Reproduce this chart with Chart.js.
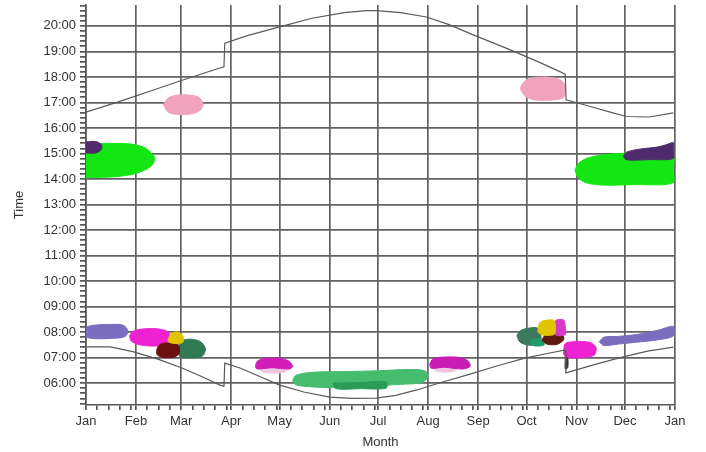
<!DOCTYPE html>
<html>
<head>
<meta charset="utf-8">
<script src="https://cdn.jsdelivr.net/npm/chart.js@4.4.1/dist/chart.umd.min.js"></script>
<style>
  html, body { margin: 0; padding: 0; background: #fff; }
</style>
</head>
<body>
<canvas id="sunChart" width="706" height="452"></canvas>
<script>
// x axis: day of year where each month starts, and its label
var monthDays = [0, 31, 59, 90, 120, 151, 181, 212, 243, 273, 304, 334, 365];
var monthNames = ['Jan', 'Feb', 'Mar', 'Apr', 'May', 'Jun', 'Jul', 'Aug', 'Sep', 'Oct', 'Nov', 'Dec', 'Jan'];

// y axis: hour ticks and labels
var hourTicks = [6, 7, 8, 9, 10, 11, 12, 13, 14, 15, 16, 17, 18, 19, 20];
var hourLabels = ['06:00', '07:00', '08:00', '09:00', '10:00', '11:00', '12:00', '13:00',
                  '14:00', '15:00', '16:00', '17:00', '18:00', '19:00', '20:00'];

// sunset and sunrise curves (day of year, hour)
var sunsetDays  = [0, 20, 40, 60, 83, 85.5, 86, 100, 120, 140, 160, 174, 180, 195, 211, 225, 240, 263, 280, 294, 297, 297.5, 312, 326.5, 335, 349, 364];
var sunsetHours = [16.62, 17.02, 17.45, 17.88, 18.35, 18.4, 19.32, 19.62, 19.96, 20.3, 20.52, 20.6, 20.6, 20.52, 20.35, 20.05, 19.65, 19.06, 18.6, 18.2, 18.1, 17.1, 16.85, 16.59, 16.45, 16.43, 16.59];
var sunriseDays  = [0, 15, 29, 45, 59.5, 72, 83, 85.5, 86, 95.4, 108, 120, 135, 151, 165, 180, 192, 205, 220, 238, 255, 272, 285, 297, 297.4, 315, 331, 348, 364];
var sunriseHours = [7.42, 7.42, 7.23, 6.93, 6.59, 6.25, 5.92, 5.88, 6.78, 6.59, 6.25, 5.92, 5.65, 5.45, 5.4, 5.41, 5.52, 5.73, 6.02, 6.35, 6.68, 6.98, 7.15, 7.3, 6.4, 6.72, 7.0, 7.25, 7.41];

// observation clusters, outlines as [day, hour]
var janGreen = [[0,15.35],[8.7,15.39],[21,15.39],[30,15.35],[37,15.2],[41.5,14.95],[42.7,14.8],[41,14.55],[37,14.37],[30,14.2],[20,14.1],[8,14.06],[0,14.06]];
var janPurple = [[0,15.45],[6,15.47],[9.5,15.35],[9.5,15.15],[6,15.02],[0,15.02]];
var marPink = [[48,16.9],[51,17.18],[57,17.29],[64,17.29],[70,17.2],[72.5,16.95],[71,16.7],[65,16.55],[57,16.53],[51,16.62],[48,16.9]];
var octPink = [[269,17.55],[272,17.85],[278,17.98],[288,17.98],[295,17.85],[297,17.55],[296,17.2],[290,17.1],[278,17.1],[272,17.25],[269,17.55]];
var decGreen = [[303,14.35],[305,14.6],[310,14.8],[318,14.92],[331,15.0],[350,15.0],[364,15.0],[364,14.4],[364,13.85],[340,13.78],[320,13.76],[310,13.85],[305,14.05],[303,14.35]];
var decPurple = [[333,14.88],[335,15.05],[343,15.17],[354,15.25],[360,15.35],[364,15.42],[364,15.1],[364,14.8],[350,14.76],[335,14.75],[333,14.88]];
var janLavender = [[0,8.2],[5,8.27],[15,8.3],[23,8.27],[26,8.05],[24,7.82],[15,7.75],[5,7.74],[0,7.8]];
var febMagenta = [[27,7.85],[29,8.02],[35,8.12],[45,8.12],[51,8.0],[53,7.75],[50,7.5],[42,7.45],[33,7.5],[28,7.65],[27,7.85]];
var marYellow = [[51,7.75],[53,7.95],[57,8.0],[60,7.85],[60,7.6],[55,7.55],[51,7.62],[51,7.75]];
var marMaroon = [[44,7.35],[46,7.52],[52,7.57],[57,7.5],[58,7.2],[55,7.02],[48,7.0],[44,7.12],[44,7.35]];
var marDarkGreen = [[57,7.4],[59,7.65],[65,7.72],[71,7.62],[74,7.35],[72,7.05],[64,6.98],[58,7.05],[57,7.4]];
var octTeal = [[267,7.85],[269,8.05],[274,8.15],[280,8.15],[282,7.8],[281,7.55],[275,7.48],[269,7.6],[267,7.85]];
var octGreen = [[276,7.72],[282,7.72],[284,7.5],[279,7.45],[276,7.52],[276,7.72]];
var octYellow = [[280,8.0],[281,8.35],[284,8.45],[290,8.45],[291,8.1],[290,7.9],[283,7.88],[280,8.0]];
var octMagenta = [[290.5,8.1],[291,8.45],[296,8.47],[297,8.2],[297,7.9],[291,7.88],[290.5,8.1]];
var octMaroon = [[283,7.75],[285,7.9],[295,7.9],[296,7.7],[292,7.52],[286,7.52],[283,7.65],[283,7.75]];
var novMagenta = [[296,7.3],[297,7.55],[302,7.62],[312,7.6],[316,7.4],[315,7.1],[308,7.0],[298,7.0],[296,7.15],[296,7.3]];
var novDark = [[297,6.98],[298.5,6.98],[298.5,6.6],[297,6.55],[297,6.98]];
var decLavender = [[318,7.62],[321,7.8],[330,7.83],[341,7.9],[355,8.08],[364,8.22],[364,7.85],[355,7.7],[341,7.6],[330,7.53],[321,7.47],[318,7.62]];
var mayMagenta = [[105,6.65],[106,6.85],[111,6.97],[120,6.97],[126,6.85],[128,6.65],[126,6.55],[115,6.6],[106,6.55],[105,6.65]];
var mayPale = [[107,6.6],[125,6.6],[123,6.42],[110,6.42],[107,6.6]];
var augMagenta = [[213,6.75],[215,6.95],[222,7.02],[232,7.0],[237,6.85],[238,6.65],[233,6.55],[222,6.62],[214,6.58],[213,6.75]];
var augPale = [[215,6.68],[230,6.68],[228,6.46],[217,6.46],[215,6.68]];
var summerGreen = [[128,6.1],[130,6.3],[140,6.42],[160,6.45],[180,6.48],[200,6.53],[210,6.48],[212,6.25],[208,6.02],[195,5.95],[175,5.88],[155,5.82],[140,5.85],[130,5.93],[128,6.1]];
var summerDark = [[153,6.0],[170,6.02],[186,6.05],[186,5.8],[170,5.78],[155,5.78],[153,6.0]];

var yMin = 5.14, yMax = 20.82;

function linePoints(days, hours) {
    return days.map(function(d, i) { return {x: d, y: hours[i]}; });
}

function sunLine(days, hours) {
    return {
        data: linePoints(days, hours),
        showLine: true, fill: false, tension: 0,
        borderColor: '#5a5a5a', borderWidth: 1.2, pointRadius: 0
    };
}

function blob(pairs, color) {
    return {
        data: pairs.map(function(p) { return {x: p[0], y: p[1]}; }),
        showLine: true, fill: 'shape', tension: 0.3,
        backgroundColor: color, borderColor: color, borderWidth: 1, pointRadius: 0
    };
}

// x ticks: month starts (major) plus weekly marks (minor)
var xTicks = [];
monthDays.forEach(function(d, i) {
    xTicks.push({value: d, major: true});
    if (i < monthDays.length - 1) {
        for (var w = d + 7; w < monthDays[i + 1] - 1; w += 7) xTicks.push({value: w, major: false});
    }
});

// y ticks: each hour (major) plus 12-minute marks (minor)
var yTicks = [];
for (var i = 26; i <= 104; i++) {
    var v = i / 5;
    yTicks.push({value: v, major: hourTicks.indexOf(v) >= 0});
}

var gridColor = function(c) { return c.tick && c.tick.major ? '#626262' : 'rgba(0,0,0,0)'; };
var labelFont = {family: 'Liberation Sans, Arial, sans-serif', size: 13};

var ctx = document.getElementById('sunChart').getContext('2d');
var sunChart = new Chart(ctx, {
    type: 'scatter',
    data: {
        datasets: [
            sunLine(sunsetDays, sunsetHours),
            sunLine(sunriseDays, sunriseHours),
            blob(janPurple, '#4f2a6c'),
            blob(janGreen, '#14e614'),
            blob(marPink, '#f0a3bd'),
            blob(octPink, '#f0a3bd'),
            blob(decPurple, '#4f2a6c'),
            blob(decGreen, '#14e614'),
            blob(marYellow, '#e2c400'),
            blob(marMaroon, '#6a1010'),
            blob(marDarkGreen, '#2f7a52'),
            blob(febMagenta, '#ee22d2'),
            blob(janLavender, '#7a6cbe'),
            blob(octYellow, '#e2c400'),
            blob(octMagenta, '#d838c8'),
            blob(octMaroon, '#5c1a0c'),
            blob(octGreen, '#1f9c6e'),
            blob(octTeal, '#3c7a60'),
            blob(novDark, '#333333'),
            blob(novMagenta, '#ee22d2'),
            blob(decLavender, '#7a6cbe'),
            blob(mayMagenta, '#d21cb8'),
            blob(mayPale, '#f0c6e2'),
            blob(augMagenta, '#c81cb4'),
            blob(augPale, '#f0c6e2'),
            blob(summerDark, '#2a9c58'),
            blob(summerGreen, '#46bd6e')
        ]
    },
    options: {
        responsive: false,
        animation: false,
        layout: {padding: {left: 0, right: 31, top: 5, bottom: 0}},
        plugins: {legend: {display: false}, tooltip: {enabled: false}},
        scales: {
            x: {
                type: 'linear', min: 0, max: 365,
                afterBuildTicks: function(s) { s.ticks = xTicks.slice(); },
                afterFit: function(s) { s.height = 47; s.paddingLeft = 0; s.paddingRight = 0; },
                grid: {color: gridColor, lineWidth: 1.7, tickColor: '#555', tickLength: 5},
                border: {color: '#555', width: 1.5},
                ticks: {
                    autoSkip: false, maxRotation: 0, padding: 4, color: '#333', font: labelFont,
                    callback: function(v, i, t) {
                        var k = monthDays.indexOf(v);
                        return t[i].major && k >= 0 ? monthNames[k] : '';
                    }
                },
                title: {display: true, text: 'Month', color: '#333', font: labelFont, padding: {top: 0, bottom: 2}}
            },
            y: {
                type: 'linear', min: yMin, max: yMax,
                afterBuildTicks: function(s) { s.ticks = yTicks.slice(); },
                afterFit: function(s) { s.width = 86; s.paddingTop = 0; s.paddingBottom = 0; },
                grid: {color: gridColor, lineWidth: 1.7, tickColor: '#555', tickLength: 6},
                border: {color: '#555', width: 1.5},
                ticks: {
                    autoSkip: false, padding: 4, color: '#333', font: labelFont,
                    callback: function(v, i, t) {
                        var k = hourTicks.indexOf(v);
                        return t[i].major && k >= 0 ? hourLabels[k] : '';
                    }
                },
                title: {display: true, text: 'Time', color: '#333', font: labelFont, padding: {top: 12, bottom: 0}}
            }
        }
    }
});
</script>
</body>
</html>
